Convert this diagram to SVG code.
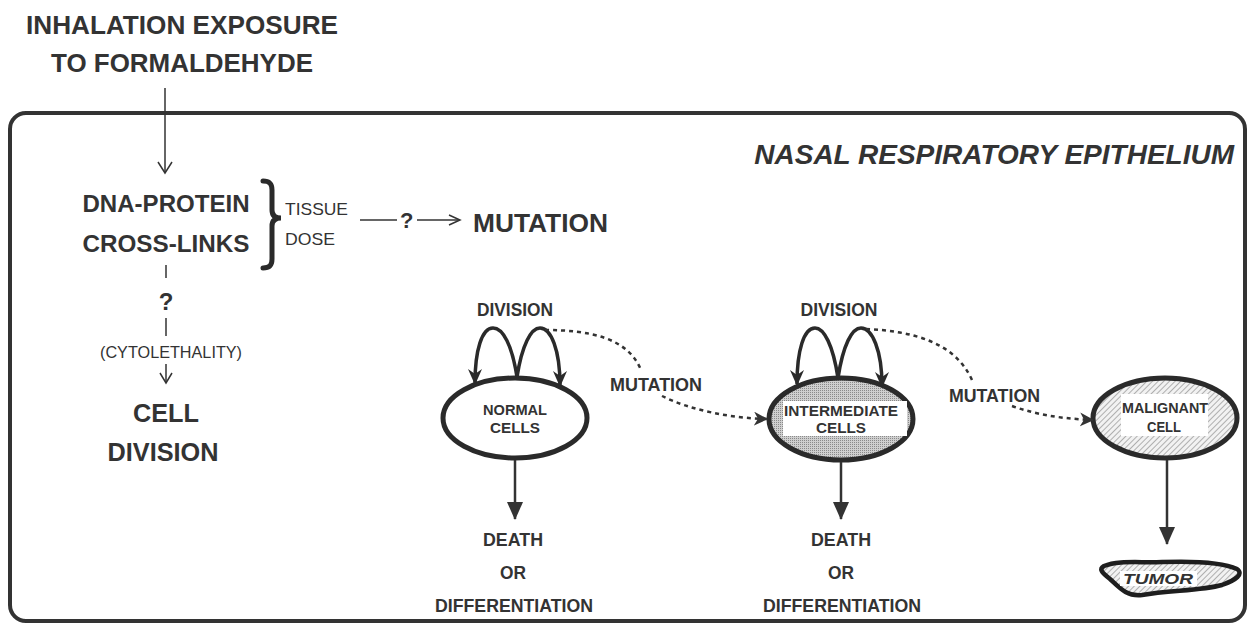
<svg xmlns="http://www.w3.org/2000/svg" width="1249" height="624" viewBox="0 0 1249 624">
<style>
text{font-family:"Liberation Sans",Arial,sans-serif;fill:#333;}
.b{font-weight:bold;}
.c{text-anchor:middle;}
.thin{fill:none;stroke:#333;stroke-width:1.5;}
.loop{fill:none;stroke:#2a2a2a;stroke-width:3.5;marker-end:url(#ah);}
.dash{fill:none;stroke:#333;stroke-width:2.5;stroke-dasharray:4 4;marker-end:url(#ah2);}
.down{fill:none;stroke:#333;stroke-width:2.5;marker-end:url(#ah3);}
.cell{stroke:#2a2a2a;stroke-width:5;}
</style>
<defs>
<marker id="ah" markerUnits="userSpaceOnUse" viewBox="0 0 16 14" refX="14" refY="7" markerWidth="16" markerHeight="14" orient="auto">
<path d="M0,0 L16,7 L0,14 L5,7 Z" fill="#2a2a2a"/>
</marker>
<marker id="ah2" markerUnits="userSpaceOnUse" viewBox="0 0 14 14" refX="13" refY="7" markerWidth="14" markerHeight="14" orient="auto">
<path d="M0,0 L14,7 L0,14 L4,7 Z" fill="#333"/>
</marker>
<marker id="ah3" markerUnits="userSpaceOnUse" viewBox="0 0 18 18" refX="17" refY="9" markerWidth="18" markerHeight="18" orient="auto">
<path d="M0,1 L18,9 L0,17 Z" fill="#333"/>
</marker>
<pattern id="stip" width="2" height="2" patternUnits="userSpaceOnUse">
<rect width="2" height="2" fill="#cfcfcf"/>
<rect width="1" height="1" fill="#8a8a8a"/>
</pattern>
<pattern id="hatch" width="4" height="4" patternUnits="userSpaceOnUse" patternTransform="rotate(45)">
<rect width="4" height="4" fill="#f2f2f2"/>
<line x1="0" y1="0" x2="0" y2="4" stroke="#8a8a8a" stroke-width="1.3"/>
</pattern>
</defs>
<rect width="1249" height="624" fill="#fff"/>

<g id="epithelium-box">
<rect x="10" y="113" width="1235" height="508" rx="16" fill="none" stroke="#333" stroke-width="4"/>
<text class="b" x="1234" y="164" text-anchor="end" font-style="italic" font-size="28">NASAL RESPIRATORY EPITHELIUM</text>
</g>

<g id="exposure">
<text class="b c" x="182" y="34" font-size="26" textLength="312" lengthAdjust="spacingAndGlyphs">INHALATION EXPOSURE</text>
<text class="b c" x="182" y="72" font-size="26" textLength="262" lengthAdjust="spacingAndGlyphs">TO FORMALDEHYDE</text>
</g>

<g id="dpx">
<text class="b c" x="166" y="212" font-size="24" textLength="167" lengthAdjust="spacingAndGlyphs">DNA-PROTEIN</text>
<text class="b c" x="166" y="252" font-size="24" textLength="167" lengthAdjust="spacingAndGlyphs">CROSS-LINKS</text>
<path d="M263,181 C270,181 272,184 272,190 L272,210 C272,215 275,218 281,218 C275,218 272,221 272,226 L272,259 C272,265 270,268 263,268" fill="none" stroke="#2a2a2a" stroke-width="5" stroke-linecap="round"/>
<text x="285" y="215" font-size="17" textLength="63" lengthAdjust="spacingAndGlyphs">TISSUE</text>
<text x="285" y="245" font-size="17" textLength="50" lengthAdjust="spacingAndGlyphs">DOSE</text>
</g>

<g id="mutation-top">
<text class="b" x="473" y="232" font-size="26" textLength="135" lengthAdjust="spacingAndGlyphs">MUTATION</text>
</g>

<g id="cell-division">
<text class="b c" x="166" y="422" font-size="26" textLength="66" lengthAdjust="spacingAndGlyphs">CELL</text>
<text class="b c" x="163" y="461" font-size="26" textLength="111" lengthAdjust="spacingAndGlyphs">DIVISION</text>
</g>

<g id="normal-cells">
<ellipse class="cell" cx="515" cy="418" rx="72" ry="40" fill="#fff"/>
<text class="b c" x="515" y="415" font-size="15" textLength="64" lengthAdjust="spacingAndGlyphs">NORMAL</text>
<text class="b c" x="515" y="433" font-size="15" textLength="50" lengthAdjust="spacingAndGlyphs">CELLS</text>
<text class="b c" x="515" y="316" font-size="18" textLength="76" lengthAdjust="spacingAndGlyphs">DIVISION</text>
</g>

<g id="intermediate-cells">
<ellipse class="cell" cx="841" cy="419" rx="72" ry="41" fill="url(#stip)"/>
<rect x="783" y="401" width="124" height="35" fill="#fff"/>
<text class="b c" x="841" y="416" font-size="15" textLength="114" lengthAdjust="spacingAndGlyphs">INTERMEDIATE</text>
<text class="b c" x="841" y="433" font-size="15" textLength="50" lengthAdjust="spacingAndGlyphs">CELLS</text>
<text class="b c" x="839" y="316" font-size="18" textLength="77" lengthAdjust="spacingAndGlyphs">DIVISION</text>
</g>

<g id="malignant-cell">
<ellipse class="cell" cx="1165" cy="418" rx="72" ry="40" fill="url(#hatch)"/>
<rect x="1121" y="394" width="87" height="42" fill="#fff"/>
<text class="b c" x="1165" y="413" font-size="15" textLength="86" lengthAdjust="spacingAndGlyphs">MALIGNANT</text>
<text class="b c" x="1164" y="432" font-size="15" textLength="34" lengthAdjust="spacingAndGlyphs">CELL</text>
</g>

<g id="tumor">
<path d="M1104,566 C1118,560 1140,563 1162,562 C1190,561 1222,562 1237,569 C1244,574 1236,580 1222,585 C1200,591 1170,590 1142,595 C1126,597 1118,586 1110,579 C1101,572 1099,569 1104,566 Z" fill="url(#hatch)" stroke="#1e1e1e" stroke-width="4.5" stroke-linejoin="round"/>
<rect x="1120" y="571" width="77" height="15" fill="#fff"/>
<text class="b" x="1123" y="584" font-style="italic" font-size="14" textLength="70" lengthAdjust="spacingAndGlyphs">TUMOR</text>
</g>

<g id="outcome-normal">
<text class="b c" x="513" y="546" font-size="18" textLength="60" lengthAdjust="spacingAndGlyphs">DEATH</text>
<text class="b c" x="513" y="579" font-size="18" textLength="26" lengthAdjust="spacingAndGlyphs">OR</text>
<text class="b c" x="514" y="612" font-size="18" textLength="158" lengthAdjust="spacingAndGlyphs">DIFFERENTIATION</text>
</g>

<g id="outcome-intermediate">
<text class="b c" x="841" y="546" font-size="18" textLength="60" lengthAdjust="spacingAndGlyphs">DEATH</text>
<text class="b c" x="841" y="579" font-size="18" textLength="26" lengthAdjust="spacingAndGlyphs">OR</text>
<text class="b c" x="842" y="612" font-size="18" textLength="158" lengthAdjust="spacingAndGlyphs">DIFFERENTIATION</text>
</g>

<g id="connectors">
<line class="thin" x1="165" y1="88" x2="165" y2="172"/>
<polyline class="thin" points="158,162 165,173 172,162"/>
<line class="thin" x1="166" y1="265" x2="166" y2="278"/>
<text class="b c" x="166" y="310" font-size="24">?</text>
<line class="thin" x1="166" y1="318" x2="166" y2="336"/>
<text class="c" x="171" y="358" font-size="17" textLength="142" lengthAdjust="spacingAndGlyphs">(CYTOLETHALITY)</text>
<line class="thin" x1="166" y1="364" x2="166" y2="382"/>
<polyline class="thin" points="160,373 166,383 172,373"/>
<line class="thin" x1="360" y1="220" x2="397" y2="220"/>
<text class="b" x="400" y="228" font-size="22">?</text>
<line class="thin" x1="417" y1="220" x2="459" y2="220"/>
<polyline class="thin" points="449,215 460,220 449,225"/>

<path class="loop" d="M517,377 C512,345 503,328 493,328 C482,328 475,350 475,383"/>
<path class="loop" d="M517,377 C522,345 531,328 540,328 C551,328 560,350 560,385"/>
<path class="loop" d="M838,378 C833,345 824,328 815,328 C804,328 797,350 797,384"/>
<path class="loop" d="M838,378 C843,345 852,328 861,328 C872,328 882,350 882,386"/>

<path class="dash" d="M545,330 C590,330 628,338 641,370" style="marker-end:none"/>
<text class="b" x="610" y="391" font-size="18" textLength="92" lengthAdjust="spacingAndGlyphs">MUTATION</text>
<path class="dash" d="M662,396 C690,410 730,418 767,419"/>
<path class="dash" d="M866,329 C912,331 955,342 972,380" style="marker-end:none"/>
<text class="b" x="949" y="402" font-size="18" textLength="91" lengthAdjust="spacingAndGlyphs">MUTATION</text>
<path class="dash" d="M1012,406 C1040,416 1068,419 1093,420"/>

<line class="down" x1="515" y1="460" x2="515" y2="519"/>
<line class="down" x1="841" y1="462" x2="841" y2="519"/>
<line class="down" x1="1167" y1="460" x2="1167" y2="544"/>
</g>
</svg>
